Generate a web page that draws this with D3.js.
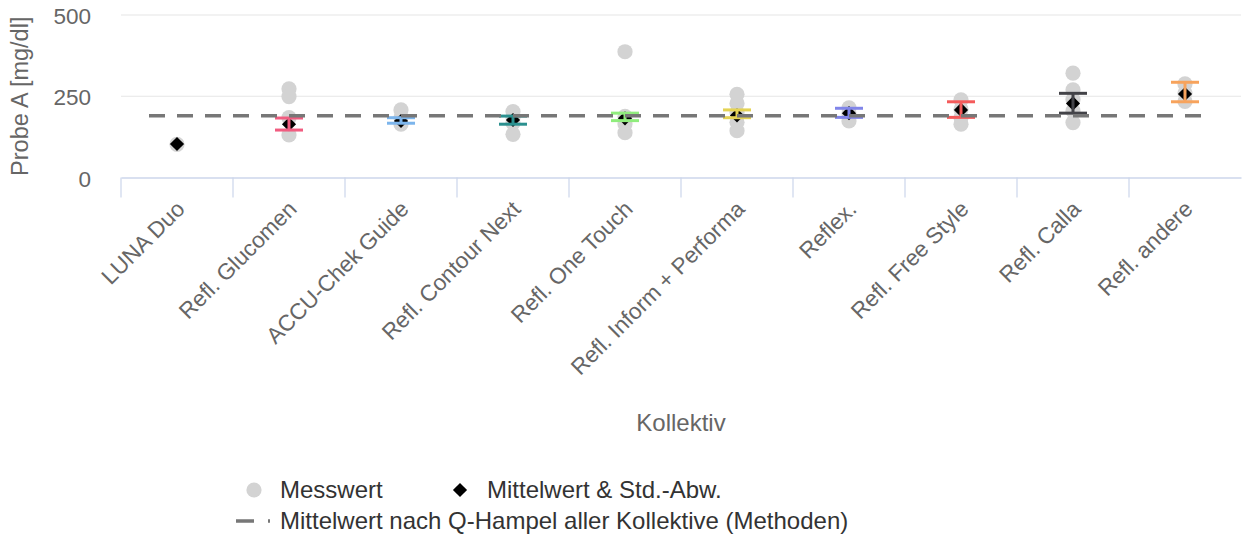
<!DOCTYPE html>
<html>
<head>
<meta charset="utf-8">
<script src="https://cdn.jsdelivr.net/npm/d3@7"></script>
<style>
  html, body { margin: 0; padding: 0; background: #fff; }
  svg { display: block; font-family: "Liberation Sans", Arial, sans-serif; }
</style>
</head>
<body>
<svg id="chart" width="1242" height="540"></svg>
<script>
// ---- data ----
const categories = ["LUNA Duo", "Refl. Glucomen", "ACCU-Chek Guide", "Refl. Contour Next",
  "Refl. One Touch", "Refl. Inform + Performa", "Reflex.", "Refl. Free Style", "Refl. Calla", "Refl. andere"];
const measuredValues = [
  [102],
  [273, 249, 184, 131],
  [208, 185, 164],
  [203, 185, 168, 133],
  [387, 188, 165, 138],
  [256, 228, 200, 170, 144],
  [214, 196, 174],
  [239, 210, 185, 164],
  [321, 270, 240, 205, 169],
  [288, 260, 234]
];
const meanValues = [103, 164, 174, 177, 182, 191, 198, 208, 228, 257];
const errLow  = [null, 146, 167, 164, 175, 184, 185, 185, 198, 233];
const errHigh = [null, 183, 184, 189, 198, 208, 213, 233, 259, 293];
const hampelValue = 190;
const hampelSpan = [-0.25, 9.15]; // in category units
const yTicks = [0, 250, 500];
const seriesColors = ["#000000", "#f15c80", "#7cb5ec", "#2b908f", "#90ed7d", "#e4d354", "#8085e9", "#f45b5b", "#434348", "#f7a35c"];
const yTitle = "Probe A [mg/dl]";
const xTitle = "Kollektiv";
const legendLabels = ["Messwert", "Mittelwert & Std.-Abw.", "Mittelwert nach Q-Hampel aller Kollektive (Methoden)"];

// ---- layout ----
const svg = d3.select("#chart");
const plotLeft = 121, plotRight = 1241, plotTop = 15, plotBottom = 177.5;
const FONT = '"Liberation Sans", Arial, sans-serif';

const x = d3.scaleBand().domain(categories).range([plotLeft, plotRight]).padding(0);
const xIdx = d3.scaleLinear().domain([0, 1]).range([plotLeft + x.bandwidth() / 2, plotLeft + x.bandwidth() * 1.5]);
const y = d3.scaleLinear().domain([0, 500]).range([plotBottom, plotTop]);

// gridlines
svg.append("g").selectAll("line").data(yTicks.filter(d => d > 0)).join("line")
  .attr("x1", plotLeft).attr("x2", plotRight)
  .attr("y1", d => y(d)).attr("y2", d => y(d))
  .attr("stroke", "#e6e6e6").attr("stroke-width", 1.2);

// y axis labels
const yAxis = d3.axisLeft(y).tickValues(yTicks).tickSize(0).tickPadding(0);
const gy = svg.append("g").attr("transform", `translate(91,0)`).call(yAxis);
gy.select(".domain").remove();
gy.selectAll("text").attr("fill", "#666666").style("font-size", "22.5px")
  .style("font-family", FONT).attr("dy", "0.38em");

// y title
svg.append("text")
  .attr("transform", `translate(28,${(plotTop + plotBottom) / 2}) rotate(-90)`)
  .attr("text-anchor", "middle").attr("fill", "#666666").style("font-size", "23.5px")
  .text(yTitle);

// x axis
const xAxis = d3.axisBottom(x).tickSize(20).tickSizeOuter(0);
const gx = svg.append("g").attr("transform", `translate(0,${plotBottom})`).call(xAxis);
gx.select(".domain").attr("stroke", "#ccd6eb").attr("stroke-width", 1.5);
gx.selectAll(".tick line").attr("stroke", "#ccd6eb").attr("stroke-width", 1.2)
  .attr("transform", `translate(${-x.step() / 2},0)`);
gx.selectAll(".tick text")
  .attr("x", 0).attr("y", 0).attr("dy", 0)
  .attr("transform", "translate(9,33) rotate(-45)")
  .style("text-anchor", "end")
  .attr("fill", "#666666").style("font-size", "22.5px")
  .style("font-family", FONT);

// x title
svg.append("text")
  .attr("x", (plotLeft + plotRight) / 2).attr("y", 431)
  .attr("text-anchor", "middle").attr("fill", "#666666").style("font-size", "24px")
  .text(xTitle);

// measured points
const pts = [];
measuredValues.forEach((arr, i) => arr.forEach(v => pts.push({ c: categories[i], v })));
svg.append("g").selectAll("circle").data(pts).join("circle")
  .attr("cx", d => x(d.c) + x.bandwidth() / 2)
  .attr("cy", d => y(d.v))
  .attr("r", 7.6)
  .attr("fill", "#d3d3d3");

// means (diamonds)
const diamond = d3.symbol().type(d3.symbolSquare).size(100);
svg.append("g").selectAll("path").data(meanValues).join("path")
  .attr("d", diamond)
  .attr("transform", (d, i) => `translate(${x(categories[i]) + x.bandwidth() / 2},${y(d)}) rotate(45)`)
  .attr("fill", "#000");

// error bars
const eb = categories.map((c, i) => ({ c, lo: errLow[i], hi: errHigh[i], col: seriesColors[i] }))
  .filter(d => d.lo != null);
const ebG = svg.append("g").selectAll("g").data(eb).join("g")
  .attr("stroke", d => d.col).attr("stroke-width", 3).attr("fill", "none");
ebG.append("line")
  .attr("x1", d => x(d.c) + x.bandwidth() / 2).attr("x2", d => x(d.c) + x.bandwidth() / 2)
  .attr("y1", d => y(d.lo)).attr("y2", d => y(d.hi));
ebG.append("line")
  .attr("x1", d => x(d.c) + x.bandwidth() / 2 - 14).attr("x2", d => x(d.c) + x.bandwidth() / 2 + 14)
  .attr("y1", d => y(d.lo)).attr("y2", d => y(d.lo));
ebG.append("line")
  .attr("x1", d => x(d.c) + x.bandwidth() / 2 - 14).attr("x2", d => x(d.c) + x.bandwidth() / 2 + 14)
  .attr("y1", d => y(d.hi)).attr("y2", d => y(d.hi));

// Q-Hampel dashed line
svg.append("line")
  .attr("x1", xIdx(hampelSpan[0])).attr("x2", xIdx(hampelSpan[1]))
  .attr("y1", y(hampelValue)).attr("y2", y(hampelValue))
  .attr("stroke", "#777777").attr("stroke-width", 3.4).attr("stroke-dasharray", "16,12");

// legend
const lg = svg.append("g").style("font-size", "24px").attr("fill", "#333333");
lg.append("circle").attr("cx", 254).attr("cy", 490).attr("r", 7.6).attr("fill", "#d3d3d3");
lg.append("text").attr("x", 280).attr("y", 498).text(legendLabels[0]);
lg.append("path").attr("d", diamond).attr("transform", "translate(460,490) rotate(45)").attr("fill", "#000");
lg.append("text").attr("x", 487).attr("y", 498).text(legendLabels[1]);
lg.append("line").attr("x1", 236).attr("x2", 270).attr("y1", 521).attr("y2", 521)
  .attr("stroke", "#777777").attr("stroke-width", 3.4).attr("stroke-dasharray", "18,14");
lg.append("text").attr("x", 280).attr("y", 529).text(legendLabels[2]);
</script>
</body>
</html>
